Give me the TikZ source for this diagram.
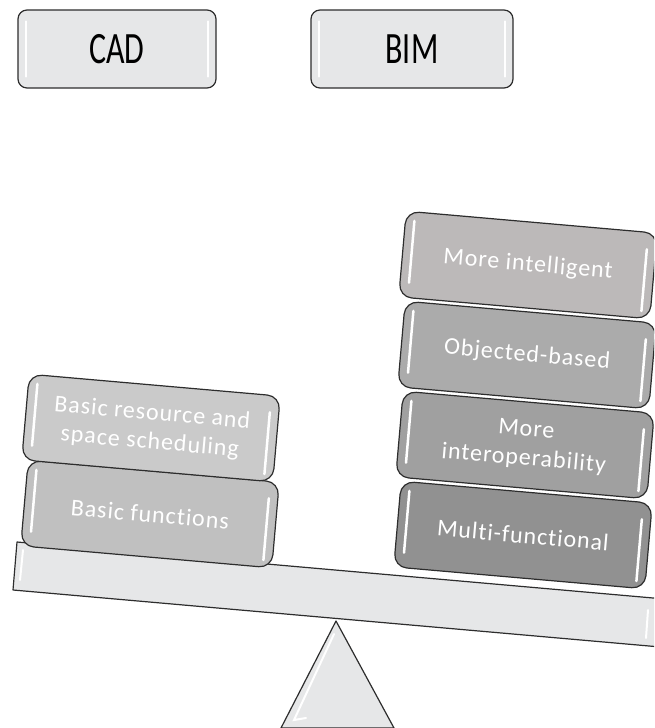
\documentclass[tikz,border=0pt]{standalone}
\usepackage{fontspec}
\setmainfont{Carlito}
\newfontfamily\blockfont[LetterSpace=4, Ligatures=NoCommon]{Carlito}
\usetikzlibrary{calc}

\definecolor{panel}{RGB}{230,231,232}
\definecolor{rim}{RGB}{45,45,45}
\definecolor{greyA}{RGB}{202,202,202}
\definecolor{greyB}{RGB}{192,192,192}
\definecolor{greyC}{RGB}{188,185,185}
\definecolor{greyD}{RGB}{171,171,171}
\definecolor{greyE}{RGB}{160,160,160}
\definecolor{greyF}{RGB}{145,145,145}

\tikzset{
  tab/.style={draw=rim, line width=1.2pt, fill=panel, rounded corners=9pt,
    minimum width=198pt, minimum height=78pt, inner sep=0pt,
    font=\fontsize{32}{32}\selectfont},
  block/.style={draw=rim, line width=1.2pt, rounded corners=13pt,
    minimum width=252pt, minimum height=86pt, inner sep=0pt, align=center,
    text=white, font=\blockfont\fontsize{24}{29}\selectfont},
  glint/.style={white, line width=2.5pt, line cap=round},
  slab/.style={draw=rim, line width=1.2pt, fill=panel, line join=round}
}

% one tilted block with its two light bars
\newcommand{\block}[5]{%
  \begin{scope}[shift={(#2,#3)}, rotate=-5, transform shape]
    \node[block, fill=#4] (#1) at (0,0) {#5};
    \draw[glint] (-117,-34) -- (-117,28);
    \draw[glint] (117,-26) -- (117,36);
  \end{scope}}

\begin{document}
\begin{tikzpicture}[x=1pt, y=-1pt]
  \clip (0,0) rectangle (654,728);
  \useasboundingbox (0,0) rectangle (654,728);

  % headings
  \node[tab] (cad) at (117,49) {\scalebox{1}[1.4]{CAD}};
  \node[tab, minimum width=202pt] (bim) at (412,49) {\scalebox{1}[1.4]{BIM}};
  \foreach \t in {cad, bim} {
    \draw[glint, line width=2pt] ($(\t.north west)+(9,12)$) -- ($(\t.south west)+(9,-12)$);
    \draw[glint, line width=2pt] ($(\t.north east)+(-9,12)$) -- ($(\t.south east)+(-9,-12)$);
  }

  % pivot
  \draw[slab] (336,621) -- (394,728) -- (281,728) -- cycle;
  \draw[glint, line width=2pt] (334,634) -- (294,720) -- (306,718);

  % beam
  \draw[slab] (17,542) -- (744,606) -- (740,654) -- (13,590) -- cycle;
  \draw[glint, line width=2pt] (23,550) -- (20,580);
  \draw[glint, line width=2pt] (648,610) -- (646,638);

  % CAD side
  \block{bfun}{150}{514}{greyB}{Basic functions}
  \block{bres}{151}{428}{greyA}{Basic resource and\\space scheduling}

  % BIM side
  \block{mfun}{523}{535}{greyF}{Multi-functional}
  \block{inter}{525}{445}{greyE}{More\\interoperability}
  \block{obj}{527}{355}{greyD}{Objected-based}
  \block{intel}{528}{265}{greyC}{More intelligent}
\end{tikzpicture}
\end{document}
